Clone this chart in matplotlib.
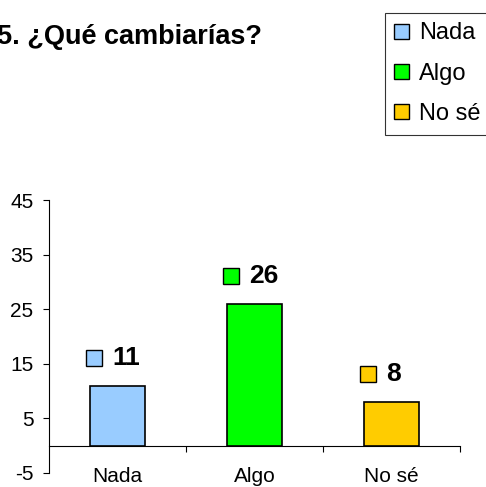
import matplotlib
matplotlib.use("Agg")
import matplotlib.pyplot as plt
from matplotlib.patches import Patch
from matplotlib.transforms import offset_copy
from matplotlib.ticker import FixedLocator

plt.rcParams['font.family'] = ['Liberation Sans', 'DejaVu Sans']
plt.rcParams['axes.unicode_minus'] = False

# datos
categorias = ['Nada', 'Algo', 'No sé']
valores = [11, 26, 8]
colores = ['#99CCFF', '#00FF00', '#FFCC00']
yticks = [-5, 5, 15, 25, 35, 45]
titulo = '5. ¿Qué cambiarías?'

fig = plt.figure(figsize=(4.86, 4.87), dpi=100)
ax = fig.add_axes([49/486, 1-473/487, 411/486, 273/487])

x = list(range(len(categorias)))
ax.bar(x, valores, width=0.4, color=colores, edgecolor='black', linewidth=1.2, zorder=3)

ax.set_xlim(-0.5, len(categorias) - 0.5)
ax.set_ylim(-5, 45)
ax.set_yticks(yticks)
ax.set_xticks(x)
ax.set_xticklabels(categorias)
ax.xaxis.set_minor_locator(FixedLocator([i + 0.5 for i in x]))

ax.spines['top'].set_visible(False)
ax.spines['right'].set_visible(False)
ax.spines['bottom'].set_position(('data', 0))
for s in ['left', 'bottom']:
    ax.spines[s].set_linewidth(0.8)

ax.tick_params(axis='y', direction='out', length=4.3, width=0.8, labelsize=15, pad=7)
ax.tick_params(axis='x', which='major', length=0, labelsize=15, pad=15.5)
ax.tick_params(axis='x', which='minor', direction='out', length=4, width=0.8)

# etiquetas de datos: cuadrito + número
for i, v in enumerate(valores):
    tr = offset_copy(ax.transData, fig=fig, x=-17, y=20, units='points')
    ax.plot([i], [v], marker='s', markersize=11.5, markerfacecolor=colores[i],
            markeredgecolor='black', markeredgewidth=1.0, transform=tr, clip_on=False)
    ax.annotate(str(v), (i, v), xytext=(-4, 20), textcoords='offset points',
                ha='left', va='center', fontsize=19, fontweight='bold')

fig.text(-3/486, 1-44/487, titulo, fontsize=19.5, fontweight='bold', ha='left', va='baseline')

handles = [Patch(facecolor=c, edgecolor='black', linewidth=1.0, label=l)
           for c, l in zip(colores, categorias)]
leg = fig.legend(handles=handles, loc='upper left', bbox_to_anchor=(385/486, 1-13/487),
                 frameon=True, fancybox=False, edgecolor='black', fontsize=17,
                 handlelength=0.6, handleheight=0.6, handletextpad=0.45,
                 labelspacing=0.78, borderpad=0.4, borderaxespad=0)
leg.get_frame().set_linewidth(0.8)

fig.savefig('out.png', dpi=100)
